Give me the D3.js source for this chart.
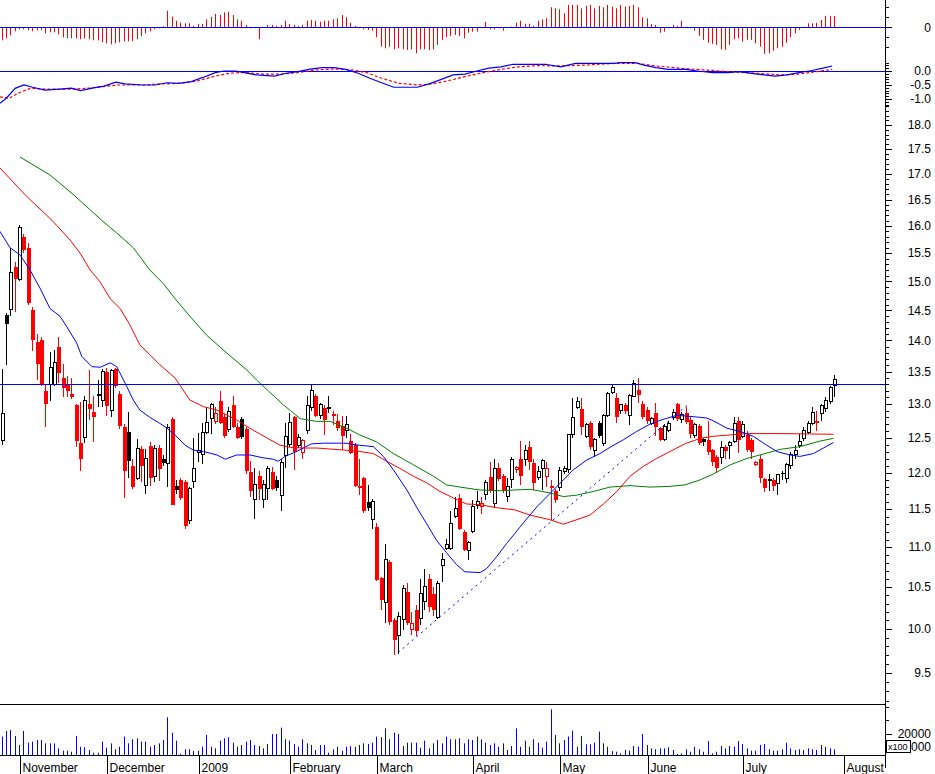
<!DOCTYPE html>
<html><head><meta charset="utf-8">
<script src="https://cdn.jsdelivr.net/npm/d3@7"></script>
<style>
html,body{margin:0;padding:0;background:#fff;}
svg{display:block;}
text{font-family:"Liberation Sans",Arial,sans-serif;font-size:12px;fill:#000;}
</style>
</head><body>
<svg id="c" width="935" height="774"></svg>
<script>
// ---------- DATA ----------
const openP = [12.46,14.42,14.52,15.26,15.03,15.8,15.6,14.5,13.97,14.0,
13.2,13.3,13.3,13.9,13.4,13.3,13.15,12.98,12.42,12.5,
13.0,12.88,13.16,13.05,13.5,12.9,13.55,13.15,12.66,12.58,
12.1,11.92,12.33,11.82,12.38,11.95,12.35,12.2,12.13,12.78,
11.82,11.9,11.87,11.35,11.88,12.28,12.26,12.58,12.78,12.74,
13.05,12.8,12.62,12.98,12.66,12.78,12.63,12.01,11.63,11.96,
11.63,11.78,12.01,11.9,11.69,12.24,12.4,12.8,12.38,12.28,
12.6,12.95,13.12,12.82,12.94,12.96,12.85,12.74,12.67,12.61,
12.45,12.39,11.81,11.92,11.59,11.36,11.26,10.61,10.31,10.81,
10.11,9.93,10.11,10.44,9.99,10.22,10.12,10.33,10.6,10.42,
10.14,10.77,10.99,10.99,11.4,11.65,11.2,10.96,11.2,11.55,
11.53,11.7,11.94,11.57,12.07,11.96,11.67,11.91,12.04,12.2,
12.19,12.37,12.13,11.93,12.06,11.95,11.81,11.74,11.8,12.02,
12.04,12.54,12.95,12.93,12.52,12.72,12.31,12.71,12.41,12.82,
13.18,13.09,12.9,12.99,12.82,13.12,13.22,13.0,12.91,12.71,
12.86,12.64,12.47,12.61,12.8,13.0,12.77,12.87,12.76,12.53,
12.67,12.48,12.47,12.32,12.22,12.22,12.36,12.39,12.45,12.74,
12.52,12.54,12.47,12.12,12.2,11.91,11.9,11.9,11.85,12.0,
11.92,12.1,12.25,12.38,12.49,12.57,12.71,12.74,12.86,12.93,
13.04,13.29];
const highP = [13.55,14.45,15.6,15.35,16.02,15.85,15.68,14.55,14.1,14.05,
13.3,13.82,13.84,14.06,13.62,13.43,13.4,13.0,13.03,13.12,
13.52,13.12,13.37,13.55,13.56,13.55,13.56,13.2,12.7,12.88,
12.2,12.48,12.38,12.33,12.44,12.4,12.4,12.25,12.7,12.8,
11.9,11.93,11.9,11.8,12.5,12.57,12.72,12.95,13.02,12.95,
13.2,12.85,12.95,13.12,12.72,12.8,12.65,12.17,12.07,12.02,
11.9,12.1,12.08,11.95,12.2,12.72,12.86,12.82,12.55,12.48,
13.12,13.3,13.15,13.02,12.98,13.12,12.9,12.85,12.82,12.82,
12.55,12.42,12.19,11.94,11.83,11.64,11.31,10.63,11.04,10.84,
10.13,10.2,10.53,10.55,10.2,10.28,10.6,10.73,10.66,10.5,
10.57,10.93,11.11,11.48,11.66,11.7,11.22,11.08,11.62,11.74,
11.66,11.9,12.15,12.2,12.14,11.98,11.93,12.22,12.1,12.45,
12.39,12.45,12.19,12.1,12.2,12.15,11.9,11.78,12.08,12.1,
12.56,13.09,13.1,13.09,12.72,12.75,12.5,12.75,12.85,13.18,
13.3,13.17,13.0,13.02,13.15,13.37,13.4,13.05,12.95,12.8,
13.01,12.66,12.7,12.75,12.92,13.02,12.88,12.95,12.8,12.72,
12.7,12.5,12.75,12.34,12.25,12.45,12.4,12.45,12.8,12.8,
12.75,12.6,12.5,12.16,12.25,11.93,11.98,11.92,11.98,12.02,
12.13,12.3,12.4,12.55,12.65,12.75,12.95,12.9,13.0,13.1,
13.28,13.45];
const lowP = [12.4,13.6,14.4,14.47,15.0,15.5,14.6,13.83,13.37,13.28,
12.66,13.04,13.28,13.32,13.1,13.1,13.08,12.36,12.02,12.42,
12.76,12.43,12.95,12.96,12.82,12.8,13.25,12.62,11.65,11.93,
11.78,11.9,11.87,11.7,11.82,11.87,11.88,12.1,11.8,11.55,
11.7,11.62,11.24,11.3,11.79,12.15,12.12,12.55,12.56,12.7,
12.7,12.5,12.58,12.64,12.48,12.48,11.98,11.67,11.37,11.62,
11.52,11.63,11.76,11.75,11.47,12.06,12.36,12.04,12.35,12.2,
12.55,12.9,12.8,12.78,12.54,12.86,12.68,12.6,12.32,12.5,
12.26,11.8,11.69,11.45,11.47,11.24,10.57,10.22,10.07,10.05,
9.7,9.71,9.99,10.05,9.93,9.92,10.05,10.22,10.2,10.15,
10.12,10.56,10.97,10.97,11.38,11.22,10.95,10.84,11.18,11.5,
11.44,11.62,11.72,11.52,11.88,11.72,11.6,11.79,12.0,11.83,
12.09,12.04,11.76,11.9,11.76,11.8,11.35,11.58,11.75,11.98,
12.0,12.5,12.92,12.54,12.5,12.32,12.22,12.5,12.38,12.8,
13.15,12.72,12.85,12.85,12.69,13.1,13.01,12.78,12.7,12.68,
12.52,12.45,12.45,12.58,12.76,12.74,12.72,12.7,12.5,12.5,
12.4,12.38,12.25,12.1,12.0,12.12,12.2,12.2,12.42,12.28,
12.5,12.3,12.2,12.1,11.85,11.73,11.75,11.75,11.69,11.9,
11.85,12.05,12.2,12.35,12.45,12.55,12.68,12.6,12.75,12.88,
13.0,13.1];
const closeP = [12.85,14.27,15.16,15.04,15.98,15.56,14.62,14.0,13.62,13.3,
13.0,13.56,13.64,13.48,13.25,13.2,13.1,12.45,12.2,13.05,
12.92,12.8,13.12,13.5,12.97,13.52,13.27,12.67,12.02,12.17,
11.8,12.35,12.1,12.2,11.93,12.35,12.05,12.14,12.65,11.55,
11.76,11.65,11.27,11.78,12.06,12.31,12.58,12.72,13.0,12.86,
12.72,12.52,12.88,12.66,12.5,12.51,12.02,11.74,11.83,11.77,
11.84,12.06,11.78,11.79,12.15,12.52,12.72,12.3,12.5,12.46,
12.98,13.21,12.82,13.0,12.76,12.93,12.82,12.64,12.53,12.69,
12.28,11.82,11.79,11.47,11.51,11.61,10.59,10.35,10.85,10.08,
9.87,10.15,10.48,10.07,10.06,9.98,10.42,10.51,10.26,10.23,
10.55,10.84,11.03,11.31,11.51,11.24,10.97,11.06,11.53,11.6,
11.57,11.86,11.74,12.06,11.91,11.75,11.81,12.19,12.07,11.96,
12.31,12.15,11.86,12.02,12.17,12.06,11.79,11.62,12.03,12.06,
12.54,12.8,13.04,12.65,12.69,12.36,12.48,12.53,12.82,13.16,
13.26,12.81,12.99,12.89,13.13,13.31,13.14,12.8,12.74,12.78,
12.66,12.47,12.67,12.71,12.87,12.77,12.84,12.73,12.56,12.69,
12.42,12.44,12.3,12.15,12.06,12.36,12.31,12.43,12.71,12.47,
12.69,12.32,12.3,12.15,11.92,11.79,11.91,11.82,11.97,11.98,
12.11,12.25,12.32,12.44,12.61,12.71,12.87,12.72,12.98,13.06,
13.26,13.37];
// volume, in units of 100 shares
const volume = [17700,21900,22600,18200,11500,21900,13200,14000,15200,15200,
12700,12700,12700,9000,7300,7300,6500,18200,10200,9800,
7800,5800,5800,14000,9500,12700,8300,10200,17700,12700,
15700,16400,14000,14000,10200,11500,12700,15200,32000,20600,
14700,5000,8300,8300,7000,7300,10200,18900,10200,9000,
14700,16400,17200,13200,10200,11500,14000,15200,11500,10700,
9000,12200,19600,19600,24300,15700,14700,12200,10200,15700,
12700,11500,7800,11500,11500,5800,8300,10200,7300,10200,
10700,10200,11500,12700,12200,13200,17700,17200,23800,15700,
20600,19600,10700,13200,13200,13200,9500,14700,9000,12700,
15200,12700,17700,15700,15700,16400,12700,15700,15200,17700,
15700,13200,11500,12700,10200,12700,7800,10700,23800,10200,
14700,10200,15700,13200,9500,14000,37900,18900,12700,15200,
17700,22100,10200,18200,12000,12000,13200,21400,12700,10200,
7000,6500,5300,7800,7300,10700,10200,19600,11500,9000,
8300,9000,9000,9800,7800,4800,5300,8300,6500,10200,
8300,6500,14400,5300,6500,10700,9000,10700,10200,14400,
12200,9000,7300,7300,11500,12200,8300,7300,7300,8300,
13200,9000,7800,8300,7800,9000,8300,7800,11500,10200,
9000,8300];
// MACD histogram, one value per session
const macdHist = [-0.065,-0.055,-0.04,-0.02,-0.01,-0.01,-0.015,-0.02,-0.015,-0.015,
-0.03,-0.025,-0.025,-0.035,-0.05,-0.055,-0.055,-0.055,-0.06,-0.055,
-0.06,-0.065,-0.065,-0.075,-0.08,-0.085,-0.08,-0.075,-0.07,-0.07,
-0.07,-0.06,-0.045,-0.03,-0.02,-0.01,-0.005,0.005,0.083,0.053,
0.033,0.023,0.02,0.02,0.007,0.017,0.017,0.04,0.053,0.067,
0.062,0.075,0.078,0.062,0.04,0.033,0.012,-0.005,-0.005,-0.06,
0.001,0.012,0.012,0.007,0.012,0.033,0.017,0.012,0.007,0.012,
0.033,0.037,0.033,0.028,0.033,0.033,0.04,0.045,0.062,0.05,
0.023,0.007,-0.005,-0.01,-0.013,-0.017,-0.05,-0.097,-0.105,-0.097,
-0.11,-0.105,-0.11,-0.113,-0.11,-0.13,-0.11,-0.11,-0.113,-0.11,
-0.088,-0.063,-0.05,-0.043,-0.038,-0.043,-0.055,-0.027,-0.022,-0.022,
-0.001,0.027,-0.01,-0.01,-0.005,-0.017,0.001,0.003,0.023,0.033,
0.017,0.017,0.007,0.033,0.04,0.045,0.1,0.095,0.09,0.07,
0.112,0.112,0.112,0.095,0.107,0.112,0.095,0.107,0.1,0.112,
0.103,0.095,0.112,0.103,0.107,0.112,0.1,0.05,0.045,0.017,
0.012,-0.027,-0.022,-0.005,0.012,0.007,0.033,0.003,-0.005,-0.017,
-0.043,-0.063,-0.077,-0.083,-0.088,-0.11,-0.113,-0.088,-0.06,-0.055,
-0.072,-0.063,-0.063,-0.08,-0.097,-0.133,-0.13,-0.117,-0.105,-0.097,
-0.077,-0.05,-0.03,-0.013,0.003,0.02,0.02,0.023,0.037,0.057,
0.057,0.057];
// MACD line and signal line: [session index, value]
const macdLine = [[-0.4,-1.15],[1,-0.98],[3.1,-0.62],[5.1,-0.5],[7.1,-0.58],[9.9,-0.68],[13.3,-0.65],[16,-0.61],[18.1,-0.7],[20.8,-0.61],[23.5,-0.54],[26.2,-0.4],[28.3,-0.46],[32.4,-0.5],[35.2,-0.5],[37.9,-0.42],[40.7,-0.44],[43.5,-0.38],[46.2,-0.23],[49,-0.06],[51,0],[53.7,0],[55.7,-0.06],[58.5,-0.14],[62.6,-0.18],[65.3,-0.08],[68,-0.02],[70.8,0.07],[73.5,0.12],[76.3,0.12],[79,0.06],[81.8,-0.08],[84.5,-0.26],[87.2,-0.42],[90,-0.58],[92.7,-0.58],[95.4,-0.58],[98.1,-0.46],[100.9,-0.3],[103.6,-0.14],[106.3,-0.11],[109.1,0],[111.8,0.1],[114.6,0.15],[117.4,0.24],[121.4,0.24],[124.8,0.24],[128.3,0.15],[131.7,0.27],[135.1,0.27],[140.6,0.27],[141.9,0.3],[145.4,0.3],[147.4,0.21],[150.2,0.12],[152.9,0.06],[157,0.06],[159.7,0],[163.2,-0.06],[166.6,-0.06],[169.3,-0.02],[173.4,-0.11],[177.5,-0.18],[180.2,-0.14],[183,-0.06],[185.7,0.01],[188.5,0.1],[190.6,0.18]];
const macdSignal = [[-0.4,-0.92],[1.7,-0.98],[3.7,-0.8],[6.5,-0.62],[10.6,-0.65],[16,-0.65],[20.1,-0.61],[24.2,-0.54],[26.9,-0.5],[32.4,-0.5],[36.6,-0.46],[40.7,-0.44],[44.8,-0.36],[49,-0.18],[52.3,-0.08],[55.7,-0.05],[59.8,-0.11],[63.9,-0.11],[68,-0.06],[72.1,0.04],[76.3,0.07],[80.4,0.04],[83.8,-0.06],[87.2,-0.26],[91.3,-0.44],[95.4,-0.5],[98.8,-0.46],[102.2,-0.36],[106.3,-0.2],[110.5,-0.06],[114.6,0.06],[118.7,0.15],[122.8,0.19],[128.3,0.18],[133.7,0.21],[140.6,0.27],[146,0.27],[150.2,0.18],[155.6,0.1],[161.1,0.04],[166.6,-0.02],[173.4,-0.08],[178.9,-0.14],[183,-0.11],[187.1,-0.02],[190.6,0.06]];
// moving averages on price: [session index, price]
const maFast = [[-0.4,15.9],[1.9,15.6],[4.2,15.47],[6.5,15.2],[8.8,14.88],[11.1,14.53],[13.4,14.4],[14.9,14.23],[17.2,13.96],[18.4,13.74],[20.7,13.58],[22.6,13.57],[24.9,13.64],[26.4,13.58],[28.7,13.27],[30.2,13.06],[31.7,12.91],[34,12.8],[36.3,12.71],[37.9,12.64],[39.8,12.54],[42.1,12.39],[44,12.32],[46.3,12.3],[49.4,12.25],[51.3,12.19],[53.9,12.25],[57,12.25],[60,12.21],[62.3,12.19],[63.5,12.16],[65,12.23],[67.7,12.3],[69.2,12.35],[71.1,12.41],[73.8,12.42],[78.8,12.42],[82.2,12.39],[85.3,12.37],[87.6,12.23],[89.9,12.04],[93,11.76],[95.2,11.53],[97.5,11.31],[99.8,11.09],[102.1,10.93],[104.4,10.78],[106.3,10.69],[109.8,10.68],[111.3,10.73],[113.6,10.88],[115.9,11.05],[117.8,11.18],[118.9,11.26],[122.8,11.53],[125.8,11.71],[128.1,11.85],[131.2,12.04],[134.3,12.18],[137.3,12.27],[139.6,12.36],[142.7,12.47],[145.7,12.59],[148.8,12.7],[151.8,12.77],[154.9,12.83],[157,12.82],[160.3,12.8],[161.8,12.79],[163.3,12.75],[166.4,12.64],[169.5,12.59],[172.5,12.52],[175.6,12.39],[177.9,12.3],[180.9,12.25],[183.2,12.23],[186.3,12.27],[188.6,12.35],[190.9,12.43]];
const maMid = [[-0.4,17.12],[5.4,16.59],[11.5,16.11],[15.7,15.74],[18,15.5],[20.3,15.2],[22.6,14.99],[24.9,14.7],[27.2,14.53],[29.4,14.26],[31.7,13.93],[34,13.77],[36.3,13.61],[39.8,13.4],[43.2,13.06],[46.3,12.96],[49.4,12.91],[53.9,12.76],[57.7,12.61],[61.6,12.47],[63.9,12.39],[66.2,12.36],[69.2,12.35],[72.3,12.35],[78.8,12.32],[82.2,12.3],[85.3,12.27],[88.4,12.16],[91.4,12.06],[94.5,11.95],[97.5,11.86],[100.6,11.74],[103.7,11.65],[106.7,11.57],[109.8,11.56],[113.6,11.52],[117.8,11.49],[121.3,11.42],[125.8,11.36],[128.9,11.3],[132,11.36],[135,11.42],[138.1,11.57],[141.2,11.74],[144.2,11.95],[147.3,12.09],[150.3,12.2],[153.4,12.3],[156.8,12.41],[160.3,12.49],[163.3,12.52],[167.2,12.54],[171,12.56],[178.6,12.56],[190.9,12.55]];
const maSlow = [[4.2,17.34],[11.1,16.98],[16.8,16.57],[22.9,16.11],[26.4,15.87],[30.2,15.6],[34,15.2],[37.1,14.96],[39.8,14.7],[43.2,14.4],[47,14.09],[51.6,13.8],[56.2,13.53],[58.5,13.37],[61.2,13.2],[64.6,12.99],[66.3,12.9],[68.5,12.78],[72.3,12.74],[75.4,12.74],[78.8,12.65],[82.2,12.54],[86,12.44],[89.9,12.27],[94.5,12.11],[99.1,11.95],[102.1,11.83],[105.2,11.8],[109.8,11.76],[114.4,11.75],[117.8,11.76],[121.3,11.77],[125.8,11.72],[128.9,11.67],[132,11.69],[135.8,11.74],[139.6,11.8],[144.2,11.82],[148.8,11.8],[153.4,11.81],[156.8,11.83],[160.3,11.9],[163.3,11.98],[167.2,12.11],[171,12.2],[174,12.25],[178.6,12.33],[183.2,12.37],[187.8,12.45],[190.9,12.49]];
const resistanceLevel = 13.3;
const trendLine = [[91,9.73],[158,13.02]];
const months = ["November","December","2009","February","March","April","May","June","July","August"];
const monthStart = [4,24,45,66,86,108,128,148,170,193];
const priceTicks = [9.5,10,10.5,11,11.5,12,12.5,13,13.5,14,14.5,15,15.5,16,16.5,17,17.5,18];
const macdTicks = [0,-0.5,-1];
const volTicks = [10000,20000];

// ---------- DRAWING ----------
const svg = d3.select('#c');
const AX = 885.5;
const N = closeP.length;
const x = d3.scaleLinear().domain([0, N-1]).range([1.7, 833.9]);
const yP = d3.scaleLog().domain([9.5, 18]).range([673, 125]);
const yV = d3.scaleLinear().domain([0, 40000]).range([760.5, 706.5]);
const yH = d3.scaleLinear().domain([-0.1, 0.1]).range([47.3, 7.3]);
const yM = d3.scaleLinear().domain([-1, 0]).range([99, 71]);

const defs = svg.append('defs');
function clip(id, y0, h){ defs.append('clipPath').attr('id', id).append('rect').attr('x',0).attr('y',y0).attr('width',885).attr('height',h); }
clip('cH', 0, 56); clip('cM', 56, 50); clip('cP', 105, 599); clip('cV', 704, 51);

const px = i => Math.round(x(i));

// Histogram panel
const gH = svg.append('g').attr('clip-path','url(#cH)');
gH.selectAll('line.h').data(macdHist).join('line')
  .attr('x1',(d,i)=>px(i)+0.5).attr('x2',(d,i)=>px(i)+0.5)
  .attr('y1',yH(0)).attr('y2',d=>yH(d))
  .attr('stroke','#ff0000').attr('stroke-width',1);
gH.append('line').attr('x1',0).attr('x2',AX).attr('y1',Math.round(yH(0))+0.5).attr('y2',Math.round(yH(0))+0.5).attr('stroke','#0000ff');

// MACD lines panel
const gM = svg.append('g').attr('clip-path','url(#cM)');
gM.append('line').attr('x1',0).attr('x2',AX).attr('y1',yM(0)+0.5).attr('y2',yM(0)+0.5).attr('stroke','#0000ff');
const lineM = d3.line().x(d=>x(d[0])).y(d=>yM(d[1]));
gM.append('path').attr('d',lineM(macdSignal)).attr('fill','none').attr('stroke','#ff0000').attr('stroke-width',1.2).attr('stroke-dasharray','3,2');
gM.append('path').attr('d',lineM(macdLine)).attr('fill','none').attr('stroke','#0000ff').attr('stroke-width',1.2);

// Price panel
const gP = svg.append('g').attr('clip-path','url(#cP)');
const candles = d3.range(N).map(i => ({i, o:openP[i], h:highP[i], l:lowP[i], c:closeP[i], pc: i>0 ? closeP[i-1] : closeP[i]}));
const col = d => d.c >= d.pc ? '#000000' : '#ff0000';
const cg = gP.selectAll('g.cdl').data(candles).join('g').attr('shape-rendering','crispEdges');
cg.append('line')
  .attr('x1',d=>px(d.i)+0.5).attr('x2',d=>px(d.i)+0.5)
  .attr('y1',d=>yP(d.h)).attr('y2',d=>yP(d.l))
  .attr('stroke',col);
cg.append('rect')
  .attr('x',d=> d.c>=d.o ? px(d.i)-1 : px(d.i)-1.5)
  .attr('width',d=> d.c>=d.o ? 3 : 4)
  .attr('y',d=>yP(Math.max(d.o,d.c)))
  .attr('height',d=>Math.max(1, yP(Math.min(d.o,d.c)) - yP(Math.max(d.o,d.c))))
  .attr('fill',d=> d.c>=d.o ? '#ffffff' : col(d))
  .attr('stroke',d=> d.c>=d.o ? col(d) : 'none')
  .attr('stroke-width',1);

const lineP = d3.line().x(d=>x(d[0])).y(d=>yP(d[1]));
gP.append('path').attr('d',lineP(maSlow)).attr('fill','none').attr('stroke','#008000').attr('stroke-width',1);
gP.append('path').attr('d',lineP(maMid)).attr('fill','none').attr('stroke','#ff0000').attr('stroke-width',1);
gP.append('path').attr('d',lineP(maFast)).attr('fill','none').attr('stroke','#0000ff').attr('stroke-width',1);
gP.append('path').attr('d',lineP(trendLine)).attr('fill','none').attr('stroke','#0000ff').attr('stroke-width',1).attr('stroke-dasharray','2,4');
gP.append('line').attr('x1',0).attr('x2',AX).attr('y1',Math.round(yP(resistanceLevel))+0.5).attr('y2',Math.round(yP(resistanceLevel))+0.5).attr('stroke','#0000ff');

// Volume panel
const gV = svg.append('g').attr('clip-path','url(#cV)');
gV.selectAll('line').data(volume).join('line')
  .attr('x1',(d,i)=>px(i)+0.5).attr('x2',(d,i)=>px(i)+0.5)
  .attr('y1',755).attr('y2',d=>yV(d))
  .attr('stroke','#0000ff');

// frame lines
svg.append('line').attr('x1',0).attr('x2',AX).attr('y1',704.5).attr('y2',704.5).attr('stroke','#000');
svg.append('line').attr('x1',0).attr('x2',AX).attr('y1',755.5).attr('y2',755.5).attr('stroke','#000');
svg.append('line').attr('x1',AX).attr('x2',AX).attr('y1',0).attr('y2',768).attr('stroke','#000');

// right axis ticks + labels
const ax = svg.append('g').attr('shape-rendering','crispEdges');
function tick(y, len){ ax.append('line').attr('x1',AX).attr('x2',AX+len).attr('y1',Math.round(y)+0.5).attr('y2',Math.round(y)+0.5).attr('stroke','#000'); }
function label(y, t){ svg.append('text').attr('x',931).attr('y',y).attr('dy','0.35em').attr('text-anchor','end').text(t); }
// histogram axis
[-0.1,-0.05,0.05,0.1].forEach(v=>tick(yH(v),3));
tick(yH(0),6); label(yH(0),'0');
// macd axis
d3.range(-12,4).forEach(k=>{ const v=k/10; if (k%5!==0) tick(yM(v),3); });
macdTicks.forEach(v=>{ tick(yM(v),6); label(yM(v), d3.format('.1f')(v).replace('−','-')); });
// price axis
d3.range(92,185).forEach(k=>{ const v=k/10; if (k%5!==0) tick(yP(v),3); });
priceTicks.forEach(v=>{ tick(yP(v),6); label(yP(v), v.toFixed(1)); });
// volume axis
[30000,40000].forEach(v=>tick(yV(v),3));
volTicks.forEach(v=>{
  tick(yV(v),6);
  // the lower label is partly covered by the "x100" unit box; only its visible tail is drawn
  label(yV(v), v === 10000 ? String(v).slice(2) : String(v));
});
svg.append('rect').attr('x',886.5).attr('y',740.5).attr('width',24).attr('height',12).attr('fill','#fff').attr('stroke','#000');
svg.append('text').attr('x',888).attr('y',750).style('font-size','9px').text('x100');

// month axis
const mg = svg.append('g');
months.forEach((m,k)=>{
  const xx = Math.round(x(monthStart[k]))+1.5;
  mg.append('line').attr('x1',xx).attr('x2',xx).attr('y1',755).attr('y2',774).attr('stroke','#000');
  mg.append('text').attr('x',xx+2).attr('y',772).text(m);
});
</script>
</body></html>
